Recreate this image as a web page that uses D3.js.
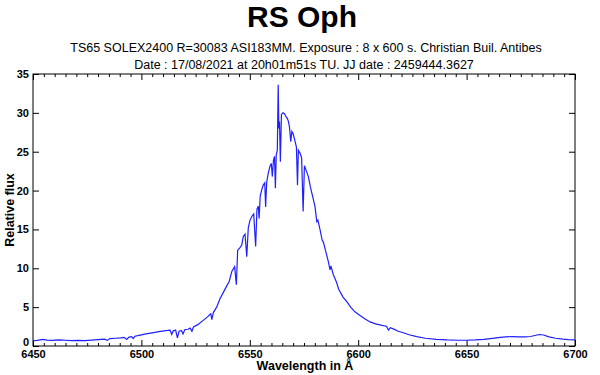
<!DOCTYPE html>
<html><head><meta charset="utf-8">
<script src="https://cdn.jsdelivr.net/npm/d3@7"></script>
<style>
body{margin:0;background:#fff;}
svg{display:block;font-family:"Liberation Sans",Arial,Helvetica,sans-serif;}
</style></head><body>
<svg id="c" width="600" height="375"></svg>
<script>
const title = "RS Oph";
const subtitle1 = "TS65 SOLEX2400 R=30083 ASI183MM. Exposure : 8 x 600 s. Christian Buil. Antibes";
const subtitle2 = "Date : 17/08/2021 at 20h01m51s TU. JJ date : 2459444.3627";
const xLabel = "Wavelength in Å";
const yLabel = "Relative flux";
const xTicks = [6450, 6500, 6550, 6600, 6650, 6700];
const yTicks = [0, 5, 10, 15, 20, 25, 30, 35];

const wavelength = [
6450.0,6452.0,6454.5,6456.5,6459.0,6462.0,6465.0,6468.0,6471.0,6474.0,6477.0,6480.0,6483.0,6484.2,6485.5,
6488.0,6490.5,6492.0,6493.2,6494.3,6495.5,6496.2,6497.0,6499.5,6502.0,6505.0,6508.0,6510.5,6512.0,6513.2,
6514.0,6514.7,6515.8,6516.6,6517.4,6518.5,6519.2,6520.0,6521.5,6522.5,6523.3,6524.0,6526.0,6528.5,6530.5,
6532.0,6532.5,6533.2,6534.7,6536.3,6537.8,6539.5,6540.5,6541.7,6543.0,6543.8,6544.4,6545.3,6546.3,6547.0,
6547.8,6548.6,6549.3,6550.1,6551.0,6551.8,6552.7,6553.3,6553.9,6554.3,6554.8,6555.5,6556.2,6556.9,6557.3,
6557.8,6558.5,6559.3,6559.9,6560.4,6560.9,6561.4,6561.8,6562.2,6562.7,6563.1,6563.4,6563.7,6564.1,6564.6,
6565.3,6566.0,6566.7,6567.3,6567.8,6568.3,6568.9,6569.4,6570.0,6570.9,6571.5,6572.0,6572.4,6573.2,6573.9,
6574.6,6575.2,6576.0,6577.0,6578.0,6579.2,6580.1,6580.9,6581.4,6582.3,6583.4,6583.9,6585.0,6586.2,6587.0,
6587.4,6588.5,6590.0,6591.0,6593.0,6595.0,6596.5,6598.5,6601.0,6603.0,6605.5,6608.0,6611.0,6613.0,6614.0,
6614.8,6616.2,6618.5,6620.8,6623.5,6627.0,6631.0,6636.0,6641.0,6646.0,6650.0,6654.0,6658.0,6662.0,6665.5,
6668.0,6671.0,6674.0,6677.0,6679.5,6681.5,6683.5,6685.5,6688.0,6691.0,6694.5,6697.0,6700.0
];
const flux = [
0.70,0.72,0.85,0.75,0.72,0.78,0.74,0.70,0.72,0.68,0.75,0.82,0.88,0.72,0.95,
1.00,1.05,1.12,0.85,1.15,1.20,0.95,1.25,1.40,1.55,1.70,1.85,1.95,2.00,2.05,
1.50,1.95,2.05,1.05,1.90,2.00,1.55,2.10,2.15,2.30,1.90,2.45,2.75,3.30,3.75,
4.15,3.40,4.30,5.00,6.10,6.90,7.80,8.30,9.60,10.20,7.90,12.30,12.60,13.00,14.10,
14.40,11.50,15.20,16.20,16.70,17.00,12.80,17.60,18.00,16.40,19.30,20.10,20.70,21.00,17.90,
21.10,22.20,23.10,23.50,21.80,23.90,24.40,20.30,24.60,25.20,33.60,28.00,28.90,23.70,29.80,
30.00,29.90,29.50,29.30,28.90,28.20,26.30,27.60,27.30,26.30,25.60,20.70,25.20,24.80,24.20,
17.30,23.20,22.60,21.80,20.40,19.00,17.90,16.00,16.20,15.10,13.60,13.40,12.20,10.90,9.80,
10.30,9.20,8.20,7.30,6.30,5.60,5.00,4.40,3.90,3.50,3.10,2.85,2.65,2.55,2.05,
2.35,2.20,1.90,1.70,1.45,1.20,1.00,0.86,0.78,0.74,0.74,0.78,0.86,0.98,1.10,
1.18,1.20,1.18,1.17,1.22,1.35,1.48,1.42,1.18,1.00,0.88,0.82,0.78
];

const svg = d3.select("#c");
const L = 33, R = 575, T = 74, B = 346;
const x = d3.scaleLinear().domain([6450, 6700]).range([L, R]);
const y = d3.scaleLinear().domain([0, 35]).range([B, T]);

// titles
svg.append("text").attr("x", 302).attr("y", 27).attr("text-anchor", "middle")
  .attr("font-size", 30).attr("font-weight", "bold").text(title);
svg.append("text").attr("x", 306).attr("y", 52).attr("text-anchor", "middle")
  .attr("font-size", 12.5).text(subtitle1);
svg.append("text").attr("x", 304).attr("y", 69).attr("text-anchor", "middle")
  .attr("font-size", 12.5).text(subtitle2);

// minor ticks x
const minor = d3.range(6450, 6701, 5).filter(v => v % 50 !== 0);
function style(g){ g.select(".domain").remove(); g.selectAll("line").attr("stroke","#000"); }
svg.append("g").attr("transform", `translate(0,${B})`)
  .call(d3.axisBottom(x).tickValues(minor).tickSize(-3).tickFormat("")).call(style);
svg.append("g").attr("transform", `translate(0,${T})`)
  .call(d3.axisTop(x).tickValues(minor).tickSize(-3).tickFormat("")).call(style);
// major
const gx = svg.append("g").attr("transform", `translate(0,${B})`)
  .call(d3.axisBottom(x).tickValues(xTicks).tickSize(-6).tickPadding(4).tickFormat(d3.format("d"))).call(style);
gx.selectAll("text").attr("font-size", 11).attr("font-weight", "bold").attr("fill","#000")
  .attr("font-family", "Liberation Sans, Arial, sans-serif");
svg.append("g").attr("transform", `translate(0,${T})`)
  .call(d3.axisTop(x).tickValues(xTicks).tickSize(-6).tickFormat("")).call(style);
const gy = svg.append("g").attr("transform", `translate(${L},0)`)
  .call(d3.axisLeft(y).tickValues(yTicks).tickSize(-6).tickPadding(4).tickFormat(d3.format("d"))).call(style);
gy.selectAll("text").attr("font-size", 11).attr("font-weight", "bold").attr("fill","#000")
  .attr("font-family", "Liberation Sans, Arial, sans-serif");
gy.selectAll(".tick").filter(d => d === 0).select("text").attr("dy", "-0.05em");
svg.append("g").attr("transform", `translate(${R},0)`)
  .call(d3.axisRight(y).tickValues(yTicks).tickSize(-6).tickFormat("")).call(style);

// frame
svg.append("rect").attr("x", L).attr("y", T).attr("width", R - L).attr("height", B - T)
  .attr("fill", "none").attr("stroke", "#000").attr("stroke-width", 1);

// spectrum
const pts = wavelength.map((w, i) => [w, flux[i]]);
svg.append("path").datum(pts)
  .attr("fill", "none").attr("stroke", "#1f1fff").attr("stroke-width", 1.2)
  .attr("d", d3.line().x(d => x(d[0])).y(d => y(d[1])));

// axis labels
svg.append("text").attr("x", 305).attr("y", 370).attr("text-anchor", "middle")
  .attr("font-size", 12.5).attr("font-weight", "bold").text(xLabel);
svg.append("text").attr("transform", "translate(14,210) rotate(-90)").attr("text-anchor", "middle")
  .attr("font-size", 12.5).attr("font-weight", "bold").text(yLabel);
</script>
</body></html>
